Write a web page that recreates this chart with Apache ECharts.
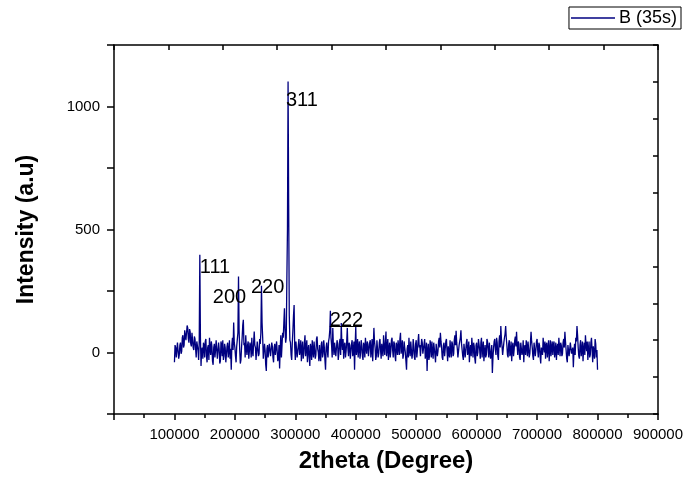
<!DOCTYPE html>
<html>
<head>
<meta charset="utf-8">
<script src="https://cdn.jsdelivr.net/npm/echarts@6/dist/echarts.min.js"></script>
<style>
  body { margin: 0; background: #fff; }
  #xrd { width: 686px; height: 478px; }
</style>
</head>
<body>
<div id="xrd"></div>
<script>
// sampling grid of the scan (2theta axis as exported)
const scanStart = 100000;
const scanStep = 2000;

// intensity at 100000, 102000, ... 800000
const intensity = [
  -40, 20, -15, 35, -10, 40, 5, 70, 30, 95, 45, 100, 40, 85, 25, 75, 10, 55, -20, 40,
  -30, 397, -55, 20, 40, -20, 55, -40, 30, 60, -10, 25, -50, 35, 10, 45, -20, 15, -35, 30,
  50, -15, 20, -45, 40, 5, -25, -70, 60, 122, 20, -40, 30, 309, 10, -30, 60, 133, 40, 70,
  -10, 45, -30, 25, 60, -15, 85, 20, -25, 50, -5, 35, 271, 60, -20, 10, -75, 30, -25, 40,
  -10, 25, -40, 35, -15, 40, -20, -65, 70, 30, 60, 180, 40, 300, 1102, 150, 40, -30, 90, 193,
  -30, 40, -15, 55, 10, -35, 45, -5, 70, 20, -40, 30, -55, 15, 50, -20, 40, -10, 65, 0,
  30, -35, 45, -5, 20, -70, 40, -20, 60, 170, 30, 100, -10, 45, -20, 35, -5, 55, 120, 10,
  -25, 40, 5, 100, -15, 30, -30, 50, 10, -70, 105, 20, -20, 45, 0, 30, -30, 25, 60, -5,
  35, -20, 50, 10, -35, 100, 20, -15, 45, -5, 55, -25, 30, 70, -10, 85, 20, -30, 40, 5,
  60, -20, 35, -35, 25, 50, -10, 80, 15, -25, 45, 0, -70, 30, 60, -15, 40, -5, 25, -30,
  50, 10, 75, 30, -20, 40, -10, 55, 0, -75, 35, -15, 25, 45, -25, 15, -40, 30, 5, 60,
  80, 20, -30, 40, -10, 55, -35, 20, 50, -20, 35, -5, 70, 88, 15, -25, 45, 90, 10, -30,
  40, -15, 55, 5, -40, 30, 60, -20, 25, -45, 40, 0, 50, -25, 60, 15, -35, 30, -10, 45,
  -20, 35, -5, -83, 20, 55, -10, 40, -30, 70, 108, 25, -15, 60, 108, 30, -20, 50, 0, -35,
  40, 10, 65, 84, -10, 35, -30, 45, 5, -40, 30, 50, -15, 40, -5, 84, 20, -30, 35, 10,
  55, -20, 30, -45, 25, 60, 0, -25, 40, 15, -35, 50, 20, -10, 45, 5, -30, 35, 60, -15,
  30, -5, 55, 84, 10, -40, 25, -10, 45, 0, -60, 35, 60, 108, 20, -25, 50, 10, -35, 40,
  70, 5, -30, 45, -10, 60, -40, 30, 55, -20, -70
];

// intensity read at the in-between steps 101000, 103000, ... 799000
const intensityMid = [
  30, -20, 40, -25, 30, -5, 60, 20, 90, 50, 110, 55, 95, 35, 80, 20, 65, 15, 45, 10,
  40, 60, 10, -25, 30, 45, -15, 20, -30, 15, 45, -35, 20, -20, 50, -25, 40, -45, 45, -15,
  -30, 35, -40, 25, -20, 50, 15, 30, 10, 40, -15, 25, 80, 90, -45, 20, 110, 30, -20, 15,
  30, -25, 40, -20, 5, 40, 30, -30, 45, -15, 55, 80, 120, -25, 35, -50, 15, -20, 35, -15,
  40, -20, 20, -10, 45, -35, 30, 15, -20, 80, 120, 90, 60, 500, 600, 50, -10, 40, 150, 20,
  45, -20, 30, -10, 50, 15, -25, 40, -15, 50, 10, -20, 35, -30, 5, 45, -25, 55, 15, -35,
  -15, 35, -20, 50, -30, 20, 5, 45, 90, 60, -20, 25, 40, -15, 50, -30, 40, -10, 40, 55,
  30, -20, 45, 15, 40, -25, 35, -15, 45, 30, -10, 55, 25, -25, 50, -15, 40, -20, 20, 45,
  -15, 40, -20, 55, 25, 45, -30, 50, -20, 40, 10, 35, -15, 20, 45, -15, 55, 15, -20, 50,
  10, 45, -15, 40, -10, 20, 55, -5, 50, -10, 20, -35, 15, -20, 10, 45, -25, 55, -20, 35,
  -20, 45, 20, -15, 55, -5, 35, -25, 40, 10, -30, 50, -20, 0, 40, -10, 35, -15, 45, 20,
  45, -20, 30, -15, 45, 5, 25, -20, 10, 45, -15, 50, 30, 40, -20, 30, 60, 35, -15, 35,
  -20, 40, -10, 45, 10, -15, 25, 40, -25, 30, -15, 55, 10, 40, -20, 45, 0, -20, 55, 10,
  40, -25, 30, -20, 45, 10, 60, -15, 45, 20, 55, -10, 40, 75, 60, -10, 35, -15, 45, 20,
  -15, 50, 25, 30, 45, -20, 40, -10, 50, 20, -10, 25, 45, -20, 40, 45, -15, 40, -15, 45,
  10, 40, -15, 20, -10, 25, 45, 30, -20, 50, 10, -15, 45, 30, -20, 40, 20, -10, 25, 40,
  -15, 40, 20, 45, -25, 30, -15, 40, -5, 20, 5, -10, 45, 70, -15, 30, -15, 45, 15, -10,
  30, 45, 15, -20, 40, 10, 25, -25, 35, 10
];

// peak labels (Miller indices) and where their text starts
const peakNames = ['111', '200', '220', '311', '222'];
const peakLabelX = [142000, 163500, 226500, 284500, 357000];
const peakLabelY = [345, 222, 264, 1023, 129];

const seriesName = 'B (35s)';
const font = 'Liberation Sans, Arial, sans-serif';

let points = [];
for (let i = 0; i < intensity.length; i++) {
  points.push([scanStart + i * scanStep, intensity[i]]);
  if (i < intensityMid.length) {
    points.push([scanStart + i * scanStep + scanStep / 2, intensityMid[i]]);
  }
}
let labelPoints = [];
for (let i = 0; i < peakNames.length; i++) {
  labelPoints.push({ name: peakNames[i], value: [peakLabelX[i], peakLabelY[i]] });
}

let myChart = echarts.init(document.getElementById('xrd'));
let axisLine = { show: true, onZero: false, lineStyle: { color: '#000', width: 1.5 } };

let option = {
  animation: false,
  backgroundColor: '#fff',
  grid: { left: 114, right: 28, top: 45, bottom: 64 },
  legend: {
    data: [seriesName],
    right: 5,
    top: 7,
    padding: [2, 4, 2, 2],
    icon: 'rect',
    itemWidth: 44,
    itemHeight: 1.5,
    itemGap: 4,
    borderColor: '#000',
    borderWidth: 1,
    borderRadius: 0,
    textStyle: { fontFamily: font, fontSize: 18, color: '#000', padding: [0, 0, 0, -1] }
  },
  xAxis: [
    {
      type: 'value',
      position: 'bottom',
      min: 0,
      max: 900000,
      interval: 100000,
      name: '2theta (Degree)',
      nameLocation: 'middle',
      nameGap: 35,
      nameTextStyle: { fontFamily: font, fontSize: 24, fontWeight: 'bold', color: '#000' },
      axisLine: axisLine,
      axisTick: { show: true, inside: false, length: 6, lineStyle: { color: '#000', width: 1.5 } },
      minorTick: { show: true, splitNumber: 2, length: 4, lineStyle: { color: '#000', width: 1.5 } },
      splitLine: { show: false },
      axisLabel: {
        margin: 13,
        fontFamily: font,
        fontSize: 15,
        color: '#000',
        formatter: function (v) { return v === 0 ? '' : String(v); }
      }
    },
    {
      type: 'value',
      position: 'top',
      min: 0,
      max: 10,
      interval: 1,
      axisLine: axisLine,
      axisTick: { show: true, inside: true, length: 5, lineStyle: { color: '#000', width: 1.5 } },
      axisLabel: { show: false },
      splitLine: { show: false }
    }
  ],
  yAxis: [
    {
      type: 'value',
      position: 'left',
      min: -250,
      max: 1250,
      interval: 250,
      name: 'Intensity (a.u)',
      nameLocation: 'middle',
      nameGap: 76,
      nameTextStyle: { fontFamily: font, fontSize: 23, fontWeight: 'bold', color: '#000' },
      axisLine: axisLine,
      axisTick: { show: true, inside: false, length: 7, lineStyle: { color: '#000', width: 1.5 } },
      splitLine: { show: false },
      axisLabel: {
        margin: 14,
        fontFamily: font,
        fontSize: 15,
        color: '#000',
        formatter: function (v) { return (v % 500 === 0 && v >= 0 && v < 1250) ? String(v) : ''; }
      }
    },
    {
      type: 'value',
      position: 'right',
      min: 0,
      max: 10,
      interval: 1,
      axisLine: axisLine,
      axisTick: { show: true, inside: true, length: 5, lineStyle: { color: '#000', width: 1.5 } },
      axisLabel: { show: false },
      splitLine: { show: false }
    }
  ],
  series: [
    {
      name: seriesName,
      type: 'line',
      xAxisIndex: 0,
      yAxisIndex: 0,
      data: points,
      showSymbol: false,
      symbol: 'none',
      lineStyle: { color: '#000080', width: 1.3 },
      itemStyle: { color: '#000080' },
      markLine: {
        silent: true,
        symbol: 'none',
        label: { show: false },
        lineStyle: { color: '#000', width: 1, type: 'solid' },
        data: [[{ coord: [357000, 108] }, { coord: [410000, 108] }]]
      }
    },
    {
      name: 'peaks',
      type: 'scatter',
      xAxisIndex: 0,
      yAxisIndex: 0,
      symbolSize: 0,
      silent: true,
      z: 5,
      data: labelPoints,
      label: {
        show: true,
        position: 'right',
        distance: 0,
        formatter: '{b}',
        fontFamily: font,
        fontSize: 20,
        color: '#000',
        opacity: 1,
        textBorderWidth: 0
      }
    }
  ]
};
myChart.setOption(option);
</script>
</body>
</html>
